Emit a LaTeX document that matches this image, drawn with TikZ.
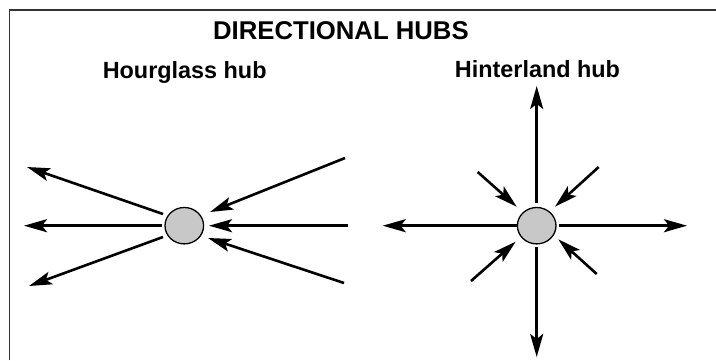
\documentclass[tikz,border=0pt]{standalone}
\usepackage{fontspec}
\setmainfont{Liberation Sans}
\usetikzlibrary{arrows.meta,shapes.geometric}
\definecolor{hubfill}{HTML}{C8C8C8}
\definecolor{framegray}{HTML}{333333}
\begin{document}
\begin{tikzpicture}[x=1pt,y=-1pt,
  flow/.style={line width=2.6pt,-{Stealth[length=23pt,width=13pt,inset=5pt]}},
  hub/.style={ellipse,draw,line width=1.3pt,fill=hubfill,
    minimum width=38.6pt,minimum height=36.4pt,inner sep=0pt},
  heading/.style={font=\bfseries\fontsize{25.7}{30}\selectfont,anchor=base,inner sep=0pt},
  subheading/.style={font=\bfseries\fontsize{23.4}{28}\selectfont,anchor=base,inner sep=0pt}]
\useasboundingbox (0,0) rectangle (716,360);

% frame (left and top edges)
\coordinate (frameBL) at (9.5,360);
\coordinate (frameTR) at (716,10);
\draw[framegray,line width=1.6pt] (frameBL) |- (frameTR);

% headings
\node[heading] (title) at (340.9,39.3) {DIRECTIONAL HUBS};
\node[subheading] (hgTitle) at (184.7,78.3) {Hourglass hub};
\node[subheading] (hlTitle) at (537.5,77.7) {Hinterland hub};

% hubs
\node[hub] (hourglass) at (184.3,225.7) {};
\node[hub] (hinterland) at (536.7,225.7) {};

% hourglass hub: three flows out to the left, three in from the right
\coordinate (hgOutA) at (163,214);   \coordinate (hgOutAEnd) at (27,167);
\coordinate (hgOutB) at (162,225.7); \coordinate (hgOutBEnd) at (24,225.7);
\coordinate (hgOutC) at (163,237);   \coordinate (hgOutCEnd) at (29,286);
\coordinate (hgInA) at (345,158);    \coordinate (hgInAEnd) at (210,212);
\coordinate (hgInB) at (348,225.7);  \coordinate (hgInBEnd) at (209,225.7);
\coordinate (hgInC) at (344,283);    \coordinate (hgInCEnd) at (208,238);
\draw[flow] (hgOutA) -- (hgOutAEnd);
\draw[flow] (hgOutB) -- (hgOutBEnd);
\draw[flow] (hgOutC) -- (hgOutCEnd);
\draw[flow] (hgInA) -- (hgInAEnd);
\draw[flow] (hgInB) -- (hgInBEnd);
\draw[flow] (hgInC) -- (hgInCEnd);

% hinterland hub: four flows out along the axes, four in along the diagonals
\coordinate (hlUp) at (536.7,203);      \coordinate (hlUpEnd) at (536.7,86);
\coordinate (hlDown) at (536.7,247);    \coordinate (hlDownEnd) at (536.7,357);
\coordinate (hlLeft) at (516.7,225.7);  \coordinate (hlLeftEnd) at (382.7,225.7);
\coordinate (hlRight) at (559,225.7);   \coordinate (hlRightEnd) at (687,225.7);
\coordinate (hlNW) at (477.7,172);      \coordinate (hlNWEnd) at (516.7,206.7);
\coordinate (hlNE) at (598.7,167);      \coordinate (hlNEEnd) at (555,206.7);
\coordinate (hlSW) at (471,281);        \coordinate (hlSWEnd) at (515.7,241.7);
\coordinate (hlSE) at (596.7,274);      \coordinate (hlSEEnd) at (558.3,239.3);
\draw[flow] (hlUp) -- (hlUpEnd);
\draw[flow] (hlDown) -- (hlDownEnd);
\draw[flow] (hlLeft) -- (hlLeftEnd);
\draw[flow] (hlRight) -- (hlRightEnd);
\draw[flow] (hlNW) -- (hlNWEnd);
\draw[flow] (hlNE) -- (hlNEEnd);
\draw[flow] (hlSW) -- (hlSWEnd);
\draw[flow] (hlSE) -- (hlSEEnd);
\end{tikzpicture}
\end{document}
